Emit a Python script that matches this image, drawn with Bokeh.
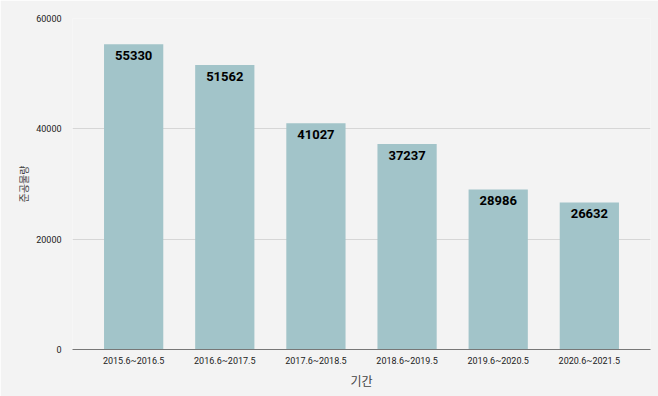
from bokeh.plotting import figure
from bokeh.models import ColumnDataSource, NumeralTickFormatter, FixedTicker
from bokeh.core.properties import value
from bokeh.embed import file_html
from bokeh.resources import INLINE

periods = ["2015.6~2016.5", "2016.6~2017.5", "2017.6~2018.5",
           "2018.6~2019.5", "2019.6~2020.5", "2020.6~2021.5"]
volumes = [55330, 51562, 41027, 37237, 28986, 26632]
y_ticks = [0, 20000, 40000, 60000]

src = ColumnDataSource(dict(x=periods, y=volumes, t=[str(v) for v in volumes]))

p = figure(x_range=periods, y_range=(0, 60000), width=658, height=396,
           output_backend="svg", toolbar_location=None,
           background_fill_color="#f3f3f3", border_fill_color="#f3f3f3",
           min_border_left=72, min_border_right=8, min_border_top=18, min_border_bottom=47)
p.outline_line_color = None
p.x_range.range_padding = 0.057
p.x_range.range_padding_units = "percent"

p.vbar(x="x", top="y", width=0.65, source=src, fill_color="#a2c4c9", line_color=None)
p.text(x="x", y="y", text="t", source=src, y_offset=11, text_align="center",
       text_baseline="middle", text_font=value("Roboto"), text_font_style="bold",
       text_font_size="13px", text_color="#000000")

p.xgrid.grid_line_color = None
p.ygrid.grid_line_color = "#d6d6d6"
p.yaxis.ticker = FixedTicker(ticks=y_ticks)
p.yaxis.formatter = NumeralTickFormatter(format="0")
p.yaxis.axis_line_color = None
p.yaxis.major_tick_line_color = None
p.yaxis.minor_tick_line_color = None
p.yaxis.major_label_standoff = 5
p.yaxis.major_label_text_font = "Roboto"
p.yaxis.major_label_text_font_size = "9px"
p.yaxis.major_label_text_color = "#222222"
p.yaxis.axis_label = "준공물량"
p.yaxis.axis_label_text_font = "Noto Sans CJK KR"
p.yaxis.axis_label_text_font_style = "normal"
p.yaxis.axis_label_text_font_size = "10px"
p.yaxis.axis_label_text_color = "#444444"
p.yaxis.axis_label_standoff = 2

p.xaxis.axis_line_color = "#777777"
p.xaxis.axis_line_width = 1
p.xaxis.major_tick_line_color = None
p.xaxis.minor_tick_line_color = None
p.xaxis.major_label_standoff = 0
p.xaxis.major_label_text_font = "Roboto"
p.xaxis.major_label_text_font_size = "9px"
p.xaxis.major_label_text_color = "#222222"
p.xaxis.axis_label = "기간"
p.xaxis.axis_label_text_font = "Noto Sans CJK KR"
p.xaxis.axis_label_text_font_style = "normal"
p.xaxis.axis_label_text_font_size = "12px"
p.xaxis.axis_label_text_color = "#444444"
p.xaxis.axis_label_standoff = 3

html = file_html(p, INLINE)
html = html.replace("<body>", '<body style="margin:0;background:#f3f3f3">', 1)
open("out.html", "w").write(html)
